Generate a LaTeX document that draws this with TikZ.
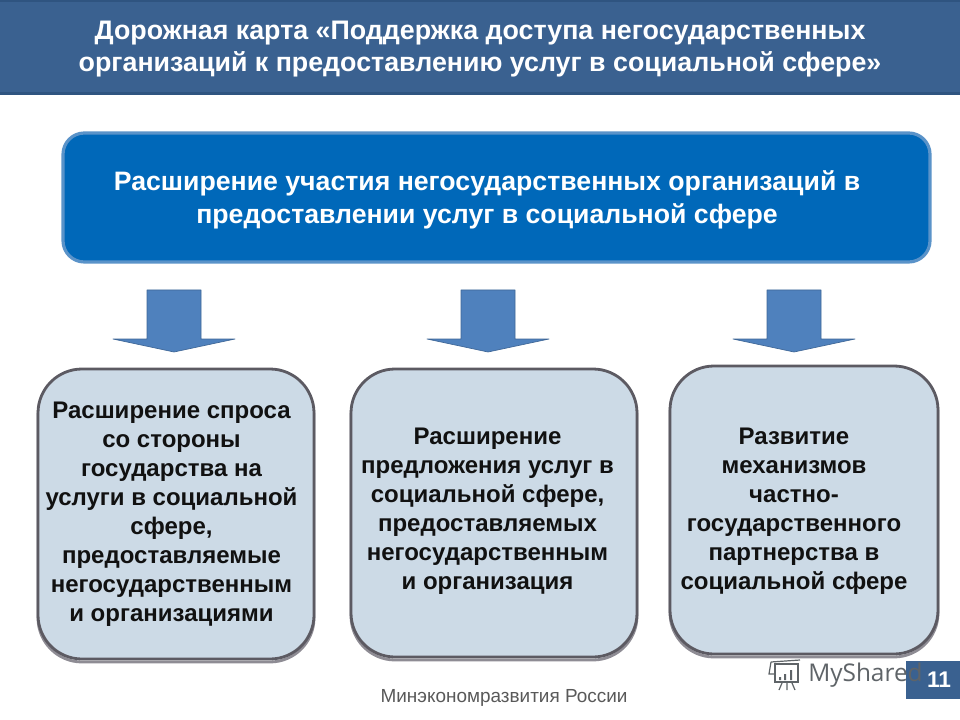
\documentclass[tikz,border=0pt]{standalone}
\usepackage{fontspec}
\setmainfont{Liberation Sans}
\newfontfamily\wmfont{Open Sans}
\definecolor{band}{HTML}{3A6190}
\definecolor{bandedge}{HTML}{2F5480}
\definecolor{mainfill}{HTML}{0068B9}
\definecolor{mainedge}{HTML}{5A93C9}
\definecolor{arrowfill}{HTML}{4F81BD}
\definecolor{arrowedge}{HTML}{3F6797}
\definecolor{boxfill}{HTML}{CCDAE6}
\definecolor{boxedge}{HTML}{5C5A62}
\definecolor{boxshadow}{HTML}{8E8C94}
\definecolor{bodytext}{HTML}{111111}
\definecolor{wm}{HTML}{5F6468}
\tikzset{
  x=0.75pt,y=-0.75pt,
  titletext/.style={font=\fontsize{20.1}{24}\bfseries\selectfont,text=white,align=center},
  maintext/.style={font=\fontsize{20}{24.8}\bfseries\selectfont,text=white,align=center},
  bodylabel/.style={font=\fontsize{18}{21.7}\bfseries\selectfont,text=bodytext,align=center},
  mainbox/.style={draw=mainedge,line width=2.4pt,fill=mainfill,rounded corners=16pt},
  softbox/.style={draw=boxedge,line width=2.1pt,fill=boxfill,rounded corners=33pt},
  softshadow/.style={draw=boxshadow,line width=2.1pt,rounded corners=33pt},
  blockarrow/.style={draw=arrowedge,line width=0.5pt,fill=arrowfill,line join=round},
  wmline/.style={draw=wm,line width=0.9pt},
}
\begin{document}
\begin{tikzpicture}
\useasboundingbox (0,0) rectangle (960,720);
\fill[white] (0,0) rectangle (960,720);
% header band
\fill[band] (0,0) rectangle (960,95);
\fill[bandedge] (0,0) rectangle (960,2);
\fill[bandedge] (0,92) rectangle (960,95);
\node[titletext] (title) at (480,49.5) {Дорожная карта «Поддержка доступа негосударственных\\организаций к предоставлению услуг в социальной сфере»};
% main box
\draw[mainbox] (63,133) rectangle (930,262);
\node[maintext] (main) at (487,200) {Расширение участия негосударственных организаций в\\предоставлении услуг в социальной сфере};
% arrows
\draw[blockarrow] (147,290) -- (201,290) -- (201,339) -- (235,339) -- (174,352) -- (113,339) -- (147,339) -- cycle;
\draw[blockarrow] (461,290) -- (515,290) -- (515,339) -- (549,339) -- (488,352) -- (427,339) -- (461,339) -- cycle;
\draw[blockarrow] (767,290) -- (821,290) -- (821,339) -- (855,339) -- (794,352) -- (733,339) -- (767,339) -- cycle;
% lower boxes
\draw[softshadow] (38,372) rectangle (314,662);
\draw[softbox] (38,369) rectangle (314,659);
\node[bodylabel] (left) at (171.5,514) {Расширение спроса\\со стороны\\государства на\\услуги в социальной\\сфере,\\предоставляемые\\негосударственным\\и организациями};
\draw[softshadow] (351,372) rectangle (637,660);
\draw[softbox] (351,369) rectangle (637,657);
\node[bodylabel] (middle) at (487.5,511) {Расширение\\предложения услуг в\\социальной сфере,\\предоставляемых\\негосударственным\\и организация};
\draw[softshadow] (670,369) rectangle (938,657);
\draw[softbox] (670,366) rectangle (938,654);
\node[bodylabel] (right) at (794,511) {Развитие\\механизмов\\частно-\\государственного\\партнерства в\\социальной сфере};
% footer
\node[font=\fontsize{14.2}{16}\selectfont,text=black!65] (footer) at (504,697.5) {Минэкономразвития России};
\fill[band] (906,661) rectangle (960,699);
\node[font=\fontsize{17}{18}\bfseries\selectfont,text=white,inner sep=0pt] (pageno) at (939,680) {11};
% watermark
\node[font=\wmfont\fontsize{18.3}{22}\selectfont,text=wm,anchor=west,inner sep=0pt] (mark) at (808,675) {MyShared};
\draw[wmline] (771,662) -- (800,660);
\draw[wmline] (775,664) rectangle (798,682);
\draw[wmline] (771,662) -- (769,674) -- (774,674);
\fill[wm] (779,677) rectangle (781,680) (784,674) rectangle (786,680) (790,670) rectangle (792,680);
\draw[wmline] (782,683) -- (779,690) (787,683) -- (787,690) (792,683) -- (795,690);
\end{tikzpicture}
\end{document}
